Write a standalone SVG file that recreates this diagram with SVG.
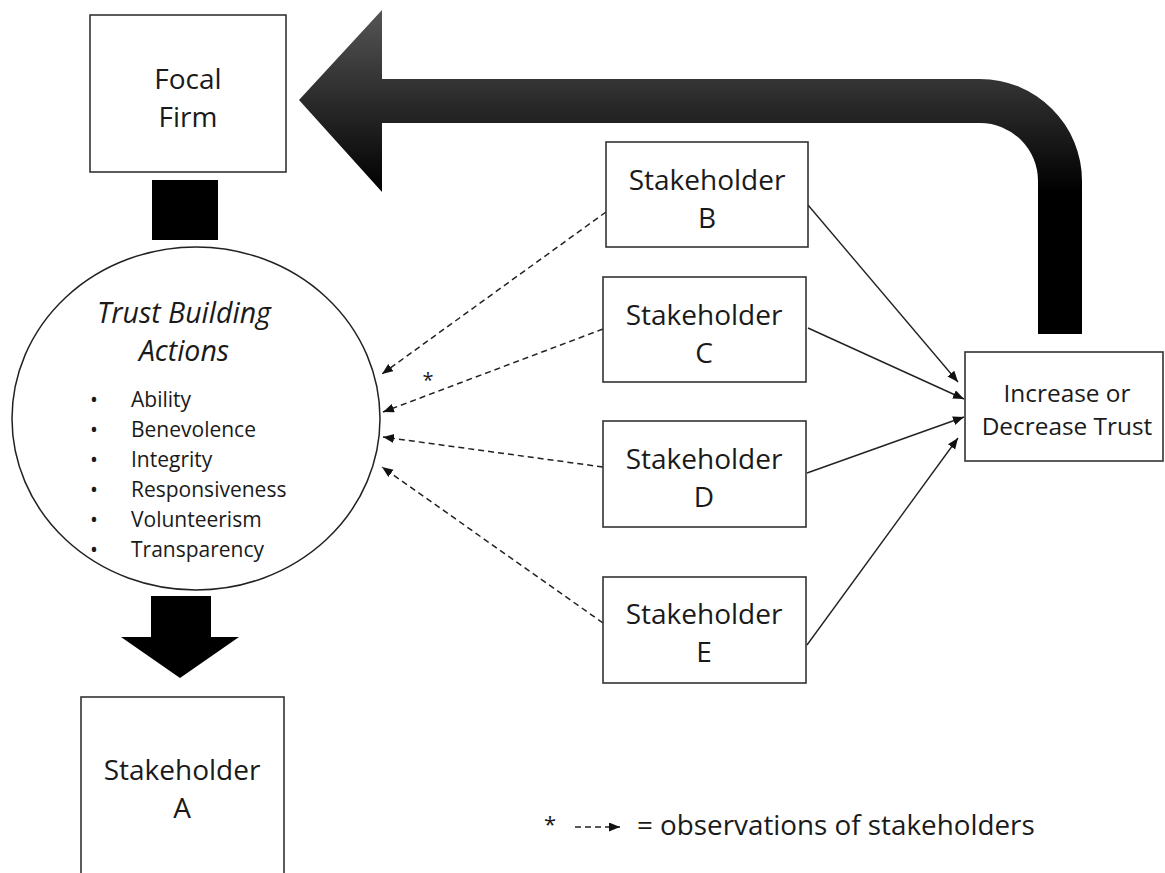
<svg xmlns="http://www.w3.org/2000/svg" width="1165" height="873" viewBox="0 0 1165 873">
<style>
.box{fill:#fff;stroke:#333;stroke-width:1.6}
.t{font-family:"Open Sans","Liberation Sans",sans-serif;fill:#1a1a1a;text-anchor:middle}
.big{font-size:28px}
.li{font-family:"Open Sans","Liberation Sans",sans-serif;fill:#1a1a1a;font-size:21px}
.dash{fill:none;stroke:#222;stroke-width:1.5;stroke-dasharray:6 4}
.solid{fill:none;stroke:#222;stroke-width:1.4}
</style>
<defs>
<linearGradient id="g" gradientUnits="userSpaceOnUse" x1="0" y1="10" x2="0" y2="192">
<stop offset="0" stop-color="#555"/>
<stop offset="1" stop-color="#000"/>
</linearGradient>
<marker id="ah" markerUnits="userSpaceOnUse" markerWidth="12" markerHeight="10" refX="11" refY="4.5" orient="auto" viewBox="0 0 12 10">
<path d="M0,0 L11,4.5 L0,9 Z" fill="#111"/>
</marker>
</defs>
<rect width="1165" height="873" fill="#fff"/>

<g id="connectors">
<path id="feedback-arrow" d="M299,100 L382,10 L382,79 L980,79 A102,102 0 0 1 1082,181 L1082,334 L1038,334 L1038,181 A58,58 0 0 0 980,123 L382,123 L382,192 Z" fill="url(#g)"/>
<rect x="152" y="180" width="66" height="60" fill="#000"/>
<path d="M151,596 L211,596 L211,637 L239,637 L180,678 L121,637 L151,637 Z" fill="#000"/>
<line class="dash" x1="606" y1="212" x2="382" y2="374" marker-end="url(#ah)"/>
<line class="dash" x1="603" y1="329" x2="383" y2="412" marker-end="url(#ah)"/>
<line class="dash" x1="603" y1="467" x2="383" y2="437" marker-end="url(#ah)"/>
<line class="dash" x1="603" y1="623" x2="382" y2="467" marker-end="url(#ah)"/>
<line class="solid" x1="808" y1="205" x2="958" y2="382" marker-end="url(#ah)"/>
<line class="solid" x1="808" y1="328" x2="964" y2="399" marker-end="url(#ah)"/>
<line class="solid" x1="807" y1="473" x2="964" y2="417" marker-end="url(#ah)"/>
<line class="solid" x1="807" y1="645" x2="958" y2="438" marker-end="url(#ah)"/>
</g>

<g id="focal-firm">
<rect class="box" x="90" y="15" width="196" height="157"/>
<text class="t big" x="188" y="89">Focal</text>
<text class="t big" x="188" y="127">Firm</text>
</g>

<g id="trust-building-actions">
<ellipse cx="196" cy="418.5" rx="184" ry="171.5" fill="#fff" stroke="#222" stroke-width="1.5"/>
<text class="t" x="184" y="323" font-size="28.5" font-style="italic">Trust Building</text>
<text class="t" x="184" y="361" font-size="28.5" font-style="italic">Actions</text>
<g class="li">
<text x="90" y="407">•</text><text x="131" y="407">Ability</text>
<text x="90" y="437">•</text><text x="131" y="437">Benevolence</text>
<text x="90" y="467">•</text><text x="131" y="467">Integrity</text>
<text x="90" y="497">•</text><text x="131" y="497">Responsiveness</text>
<text x="90" y="527">•</text><text x="131" y="527">Volunteerism</text>
<text x="90" y="557">•</text><text x="131" y="557">Transparency</text>
</g>
</g>

<g id="stakeholder-a">
<rect class="box" x="81" y="697" width="203" height="190"/>
<text class="t big" x="182" y="780">Stakeholder</text>
<text class="t big" x="182" y="818">A</text>
</g>

<g id="stakeholder-b">
<rect class="box" x="606" y="142" width="202" height="105"/>
<text class="t big" x="707" y="190">Stakeholder</text>
<text class="t big" x="707" y="228">B</text>
</g>

<g id="stakeholder-c">
<rect class="box" x="603" y="277" width="203" height="105"/>
<text class="t big" x="704" y="325">Stakeholder</text>
<text class="t big" x="704" y="363">C</text>
</g>

<g id="stakeholder-d">
<rect class="box" x="603" y="421" width="203" height="106"/>
<text class="t big" x="704" y="469">Stakeholder</text>
<text class="t big" x="704" y="507">D</text>
</g>

<g id="stakeholder-e">
<rect class="box" x="603" y="577" width="203" height="106"/>
<text class="t big" x="704" y="624">Stakeholder</text>
<text class="t big" x="704" y="662">E</text>
</g>

<g id="increase-decrease-trust">
<rect class="box" x="965" y="352" width="198" height="109"/>
<text class="t" x="1067" y="402" font-size="24.4">Increase or</text>
<text class="t" x="1067" y="435" font-size="24.4">Decrease Trust</text>
</g>

<g id="asterisk-label">
<text class="t" x="428" y="387" font-size="20">*</text>
</g>

<g id="legend">
<text class="t" x="550" y="832" font-size="22">*</text>
<line class="dash" x1="575" y1="827" x2="620" y2="827" stroke-dasharray="5 4" marker-end="url(#ah)"/>
<text class="t" x="637" y="835" font-size="27.8" style="text-anchor:start">= observations of stakeholders</text>
</g>
</svg>
